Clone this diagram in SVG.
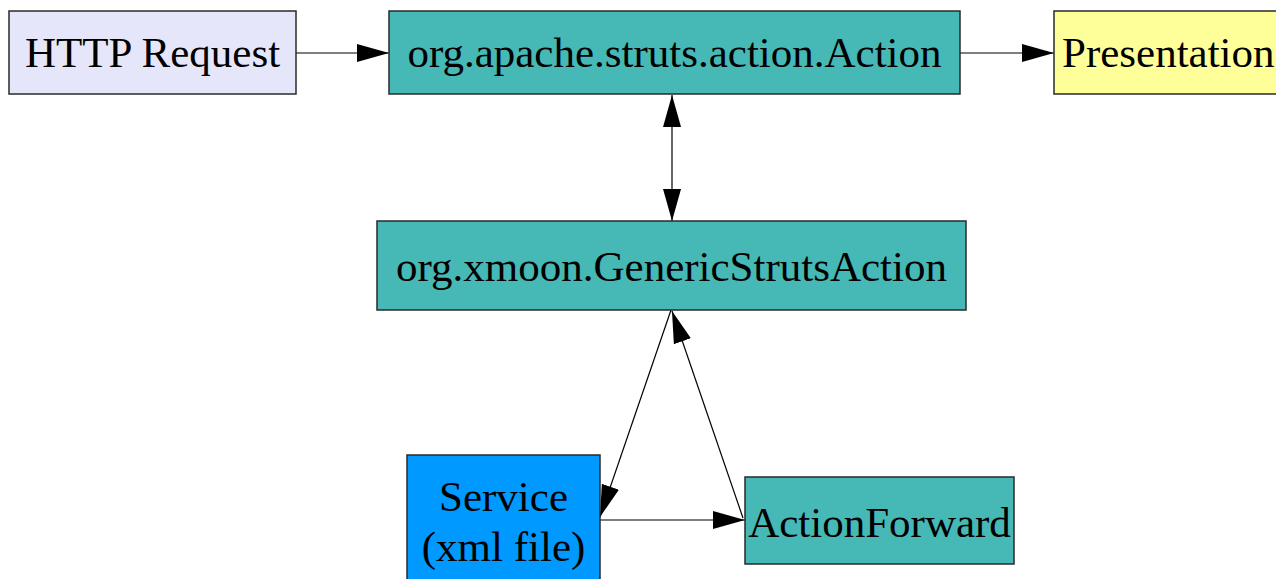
<svg xmlns="http://www.w3.org/2000/svg" width="1276" height="579" viewBox="0 0 1276 579">
<style>
.box{stroke:#2a2a2a;stroke-width:1.5}
.teal{fill:#46b8b6}
.lbl{font-family:"Liberation Serif","Times New Roman",serif;font-size:43px;fill:#000;text-anchor:middle}
.edge{stroke:#000;stroke-width:1.2;fill:none}
</style>
<defs>
<marker id="ah" markerUnits="userSpaceOnUse" markerWidth="32" markerHeight="20" refX="32" refY="9" orient="auto-start-reverse" viewBox="0 0 32 18">
<path d="M0,0 L32,9 L0,18 z" fill="#000"/>
</marker>
</defs>
<rect width="1276" height="579" fill="#fff"/>
<g id="connectors">
<line class="edge" x1="296" y1="53" x2="389" y2="53" marker-end="url(#ah)"/>
<line class="edge" x1="960" y1="53" x2="1054" y2="53" marker-end="url(#ah)"/>
<line class="edge" x1="672" y1="95" x2="672" y2="221" marker-start="url(#ah)" marker-end="url(#ah)"/>
<line class="edge" x1="671" y1="310" x2="600" y2="517" marker-end="url(#ah)"/>
<line class="edge" x1="743" y1="518" x2="672" y2="311" marker-end="url(#ah)"/>
<line class="edge" x1="600" y1="520" x2="745" y2="520" marker-end="url(#ah)"/>
</g>
<g id="http">
<rect class="box" x="9" y="11" width="287" height="83" fill="#e6e6fa"/>
<text class="lbl" x="152.5" y="67">HTTP Request</text>
</g>
<g id="action">
<rect class="box teal" x="389" y="11" width="571" height="83"/>
<text class="lbl" x="674.5" y="67">org.apache.struts.action.Action</text>
</g>
<g id="presentation">
<rect class="box" x="1054" y="11" width="240" height="83" fill="#ffff99"/>
<text class="lbl" x="1062" y="67" style="text-anchor:start">Presentation</text>
</g>
<g id="generic">
<rect class="box teal" x="377" y="221" width="589" height="89"/>
<text class="lbl" x="671.5" y="281">org.xmoon.GenericStrutsAction</text>
</g>
<g id="service">
<rect class="box" x="407" y="455" width="193" height="140" fill="#0099ff"/>
<text class="lbl" x="503.5" y="511">Service</text>
<text class="lbl" x="503.5" y="561">(xml file)</text>
</g>
<g id="forward">
<rect class="box teal" x="745" y="477" width="269" height="87"/>
<text class="lbl" x="879.5" y="537">ActionForward</text>
</g>
</svg>
